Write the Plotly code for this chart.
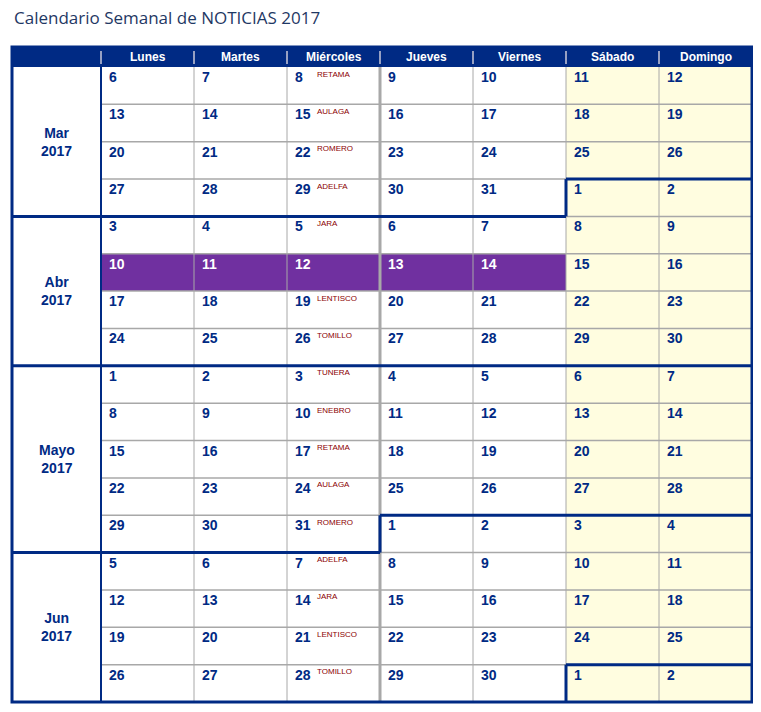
import plotly.graph_objects as go

title = "Calendario Semanal de NOTICIAS 2017"
days_header = ["Lunes", "Martes", "Miércoles", "Jueves", "Viernes", "Sábado", "Domingo"]
month_labels = ["Mar<br>2017", "Abr<br>2017", "Mayo<br>2017", "Jun<br>2017"]
mar_weeks = [[6,7,8,9,10,11,12],[13,14,15,16,17,18,19],[20,21,22,23,24,25,26],[27,28,29,30,31,1,2]]
apr_weeks = [[3,4,5,6,7,8,9],[10,11,12,13,14,15,16],[17,18,19,20,21,22,23],[24,25,26,27,28,29,30]]
may_weeks = [[1,2,3,4,5,6,7],[8,9,10,11,12,13,14],[15,16,17,18,19,20,21],[22,23,24,25,26,27,28],[29,30,31,1,2,3,4]]
jun_weeks = [[5,6,7,8,9,10,11],[12,13,14,15,16,17,18],[19,20,21,22,23,24,25],[26,27,28,29,30,1,2]]
months = [mar_weeks, apr_weeks, may_weeks, jun_weeks]
wed_notes = ["RETAMA","AULAGA","ROMERO","ADELFA","JARA","","LENTISCO","TOMILLO",
             "TUNERA","ENEBRO","RETAMA","AULAGA","ROMERO","ADELFA","JARA","LENTISCO","TOMILLO"]
highlight_row = 5  # Apr 10-14 (global row index)

NAVY = "#002A84"
cols = [12, 101, 194, 287, 380, 473, 566, 659, 752]
top, head_bot, bot = 47, 67, 702
nrows = sum(len(m) for m in months)
rh = (bot - head_bot) / nrows
ry = lambda r: head_bot + r * rh

shapes, ann = [], []
def rect(x0, y0, x1, y1, fill, lw=0, lc=None):
    shapes.append(dict(type="rect", x0=x0, y0=y0, x1=x1, y1=y1, fillcolor=fill,
                       line=dict(width=lw, color=lc or fill), layer="below"))
def line(x0, y0, x1, y1, c, w):
    shapes.append(dict(type="line", x0=x0, y0=y0, x1=x1, y1=y1, line=dict(color=c, width=w)))

rect(cols[6], head_bot, cols[8], bot, "#FFFDE0")
rect(cols[1], ry(highlight_row), cols[6], ry(highlight_row + 1), "#7030A0")
rect(cols[0], top, cols[8], head_bot, NAVY)

for r in range(1, nrows):
    line(cols[1], ry(r), cols[8], ry(r), "#A8A8A8", 1.5)
for i in range(2, 8):
    line(cols[i], head_bot, cols[i], bot, "#A8A8A8", 3 if i == 4 else 1)
for i in range(1, 8):
    line(cols[i], top + 4, cols[i], head_bot - 3, "#C8C8D8", 1.5)
for i, h in enumerate(days_header):
    ann.append(dict(x=(cols[i+1]+cols[i+2])/2, y=(top+head_bot)/2, text=f"<b>{h}</b>",
                    font=dict(color="white", size=12, family="Arial"), showarrow=False))

r = 0
for mi, weeks in enumerate(months):
    ann.append(dict(x=(cols[0]+cols[1])/2, y=(ry(r)+ry(r+len(weeks)))/2, text=f"<b>{month_labels[mi]}</b>",
                    font=dict(color=NAVY, size=14, family="Arial"), showarrow=False))
    for w in weeks:
        for c, d in enumerate(w):
            col = "white" if (r == highlight_row and c < 5) else NAVY
            ann.append(dict(x=cols[c+1]+6, y=ry(r)+10, text=f"<b>{d}</b>", xanchor="left",
                            font=dict(color=col, size=14, family="Arial"), showarrow=False))
            if c == 2 and wed_notes[r]:
                ann.append(dict(x=cols[c+1]+28, y=ry(r)+7, text=wed_notes[r], xanchor="left",
                                font=dict(color="#8B0000", size=8, family="Arial"), showarrow=False))
        r += 1

line(cols[0], ry(4), cols[6], ry(4), NAVY, 3); line(cols[6], ry(3), cols[6], ry(4), NAVY, 3)
line(cols[6], ry(3), cols[8], ry(3), NAVY, 3)
line(cols[0], ry(8), cols[8], ry(8), NAVY, 3)
line(cols[0], ry(13), cols[4], ry(13), NAVY, 3); line(cols[4], ry(12), cols[4], ry(13), NAVY, 3)
line(cols[4], ry(12), cols[8], ry(12), NAVY, 3)
line(cols[6], ry(16), cols[8], ry(16), NAVY, 3); line(cols[6], ry(16), cols[6], bot, NAVY, 3)
line(cols[1], head_bot, cols[1], bot, NAVY, 2)
shapes.append(dict(type="rect", x0=cols[0], y0=top, x1=cols[8], y1=bot, line=dict(color=NAVY, width=3)))

ann.append(dict(x=12, y=17, text=title, xanchor="left", showarrow=False,
                font=dict(color="#1F3864", size=17, family="Open Sans")))

fig = go.Figure(go.Scatter(x=[0], y=[0], mode="markers", marker=dict(opacity=0), hoverinfo="skip"))
fig.update_layout(width=753, height=704, margin=dict(l=0, r=0, t=0, b=0),
                  plot_bgcolor="white", paper_bgcolor="white", shapes=shapes, annotations=ann,
                  showlegend=False,
                  xaxis=dict(range=[8, 761], visible=False, fixedrange=True),
                  yaxis=dict(range=[712, 8], visible=False, fixedrange=True))
fig.write_html("out.html")
